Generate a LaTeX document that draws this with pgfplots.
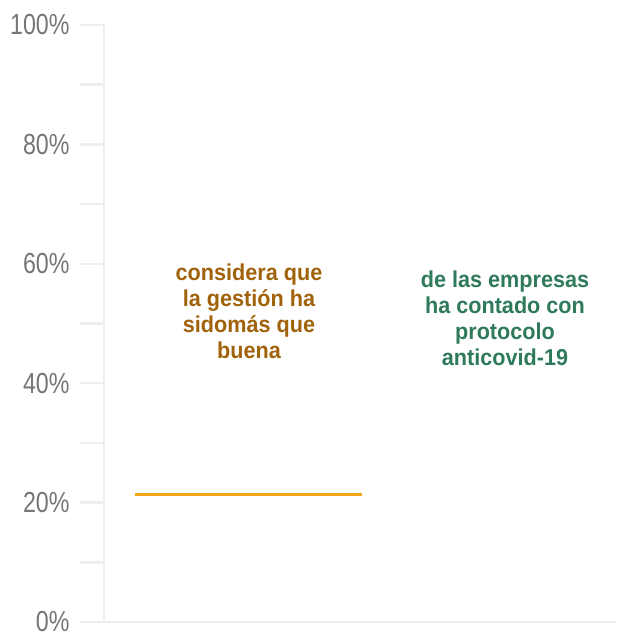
\documentclass[border=0pt]{standalone}
\usepackage{pgfplots}
\pgfplotsset{compat=1.18}
\usepackage{fontspec}
\setmainfont{Liberation Sans}
\newfontfamily\narrowfont[FakeStretch=0.8]{Liberation Sans}
\newfontfamily\boldnarrow[FakeStretch=0.94]{Liberation Sans}
\definecolor{axgray}{HTML}{EEEEEE}
\definecolor{labgray}{HTML}{757575}
\definecolor{lineorange}{HTML}{F2A516}
\definecolor{txtbrown}{HTML}{A0620A}
\definecolor{txtgreen}{HTML}{2F7A5A}
\begin{document}
\begin{tikzpicture}[x=1pt,y=1pt]
\path[use as bounding box] (0,0) rectangle (616,632);
\begin{axis}[
  at={(104pt,10pt)}, anchor=south west,
  scale only axis, width=512pt, height=597pt,
  xmin=0, xmax=512, ymin=0, ymax=100,
  axis x line=bottom, axis y line=left,
  axis line style={axgray, line width=2.5pt, -},
  xtick=\empty,
  ytick={0,20,40,60,80,100},
  minor ytick={10,30,50,70,90},
  yticklabel={\narrowfont\pgfmathprintnumber{\tick}\%},
  /pgf/number format/assume math mode=true,
  yticklabel style={labgray, font=\fontsize{29}{29}\selectfont, xshift=-7pt},
  tick style={axgray, line width=2.5pt},
  major tick length=24pt, minor tick length=24pt,
  tick align=outside,
  clip=false,
]
\addplot[lineorange, line width=3pt] coordinates {(31,21.3) (258,21.3)};
\node[txtbrown, align=center, font=\boldnarrow\bfseries\fontsize{23}{26}\selectfont] at (axis cs:145,52.1)
  {considera que\\la gestión ha\\sidomás que\\buena};
\node[txtgreen, align=center, font=\boldnarrow\bfseries\fontsize{23}{26}\selectfont] at (axis cs:401,50.8)
  {de las empresas\\ha contado con\\protocolo\\anticovid-19};
\end{axis}
\end{tikzpicture}
\end{document}
